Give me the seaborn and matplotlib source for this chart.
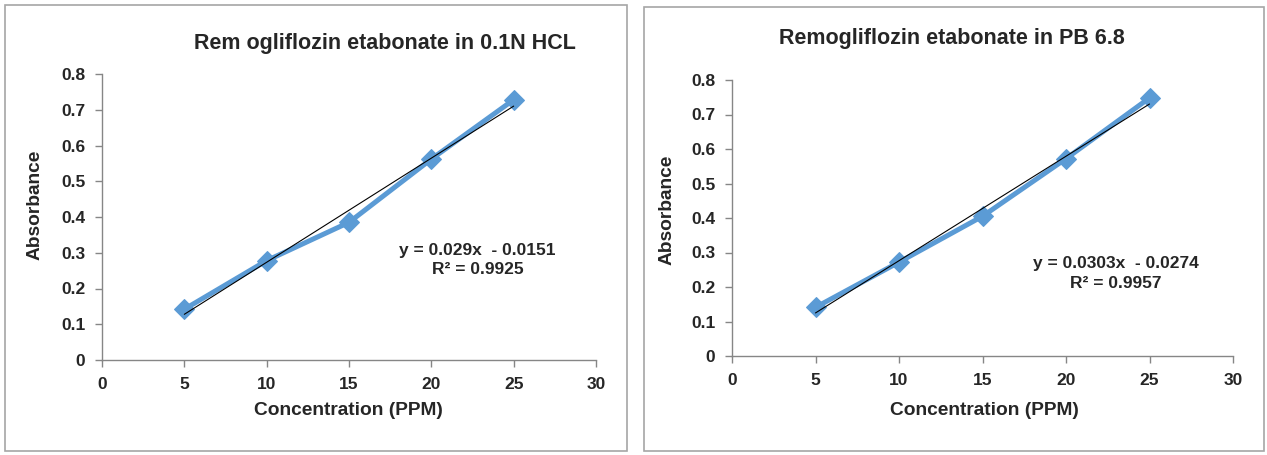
import numpy as np
import pandas as pd
import matplotlib
matplotlib.use("Agg")
import matplotlib.pyplot as plt
from matplotlib.patches import Rectangle
import seaborn as sns

# ---- data ----
conc = [5, 10, 15, 20, 25]
abs_hcl = [0.142, 0.278, 0.385, 0.562, 0.728]
abs_pb = [0.141, 0.272, 0.405, 0.572, 0.748]

title_hcl = "Rem ogliflozin etabonate in 0.1N HCL"
title_pb = "Remogliflozin etabonate in PB 6.8"
eq_hcl = "y = 0.029x  - 0.0151\nR² = 0.9925"
eq_pb = "y = 0.0303x  - 0.0274\nR² = 0.9957"
xlabel = "Concentration (PPM)"
ylabel = "Absorbance"
xticks = [0, 5, 10, 15, 20, 25, 30]
yticks = [0, 0.1, 0.2, 0.3, 0.4, 0.5, 0.6, 0.7, 0.8]
ytick_labels = ["0", "0.1", "0.2", "0.3", "0.4", "0.5", "0.6", "0.7", "0.8"]

sns.set_style("white")
plt.rcParams["font.family"] = ["Liberation Sans", "DejaVu Sans"]
plt.rcParams["font.weight"] = "bold"

BLUE = "#5B9BD5"
SPINE = "#868686"

fig = plt.figure(figsize=(12.67, 4.55), dpi=100)
fig.patch.set_facecolor("white")

# panel borders
for (x0, y0, w, h) in [(5/1267, 4/455, 622/1267, 446/455),
                       (644/1267, 4/455, 620/1267, 444/455)]:
    fig.patches.append(Rectangle((x0, y0), w, h, transform=fig.transFigure,
                                 fill=False, edgecolor="#A6A6A6", linewidth=1.2))

panels = [
    dict(pos=[102/1267, 1-360/455, 494/1267, 286/455], y=abs_hcl, title=title_hcl,
         eq=eq_hcl, eqpos=(22.8, 0.280), tpos=(0.573, 1.105),
         xl=(0.498, -0.178), yl=(-0.136, 0.542)),
    dict(pos=[732/1267, 1-356/455, 501/1267, 276/455], y=abs_pb, title=title_pb,
         eq=eq_pb, eqpos=(23.0, 0.238), tpos=(0.439, 1.152),
         xl=(0.503, -0.199), yl=(-0.130, 0.529)),
]

for p in panels:
    ax = fig.add_axes(p["pos"])
    df = pd.DataFrame({"x": conc, "y": p["y"]})
    sns.lineplot(data=df, x="x", y="y", ax=ax, color=BLUE, linewidth=3.6,
                 marker="D", markersize=10.5, markeredgecolor=BLUE,
                 markerfacecolor=BLUE, zorder=3)
    sns.regplot(data=df, x="x", y="y", ax=ax, scatter=False, ci=None,
                line_kws=dict(color="black", linewidth=0.8, zorder=4))
    ax.set_xlim(0, 30)
    ax.set_ylim(0, 0.8)
    ax.set_xticks(xticks)
    ax.set_xticklabels([str(t) for t in xticks])
    ax.set_yticks(yticks)
    ax.set_yticklabels(ytick_labels)
    for s in ["top", "right"]:
        ax.spines[s].set_visible(False)
    for s in ["left", "bottom"]:
        ax.spines[s].set_color(SPINE)
        ax.spines[s].set_linewidth(1.0)
    ax.tick_params(axis="both", which="major", direction="out", length=5,
                   width=1, color=SPINE, labelsize=12.5, pad=7,
                   left=True, bottom=True)
    for lab in ax.get_xticklabels() + ax.get_yticklabels():
        lab.set_fontweight("bold")
    ax.set_xlabel(xlabel, fontsize=13.8, fontweight="bold")
    ax.set_ylabel(ylabel, fontsize=13.8, fontweight="bold")
    ax.xaxis.set_label_coords(*p["xl"])
    ax.xaxis.label.set_va("center")
    ax.yaxis.set_label_coords(*p["yl"])
    ax.yaxis.label.set_va("center")
    ax.set_title(p["title"], fontsize=15.5, fontweight="bold",
                 x=p["tpos"][0], y=p["tpos"][1], va="center", pad=0)
    ax.text(p["eqpos"][0], p["eqpos"][1], p["eq"], ha="center", va="center",
            multialignment="center", fontsize=12.5, fontweight="bold",
            linespacing=1.4)
    ax.set_facecolor("white")

fig.savefig("out.png", dpi=100, facecolor="white")
